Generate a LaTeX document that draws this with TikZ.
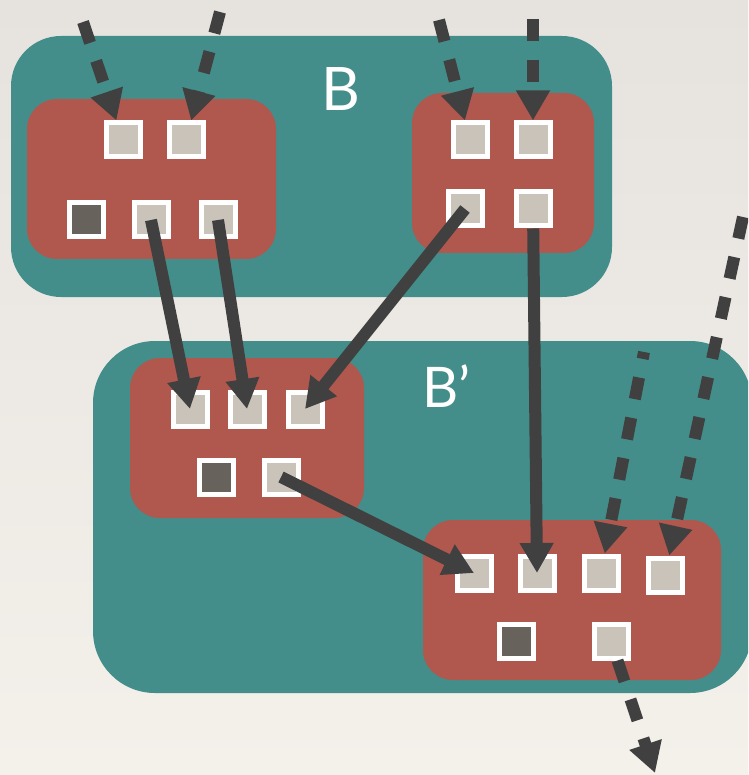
\documentclass[tikz,border=0pt]{standalone}
\usepackage{fontspec}
\setmainfont{Lato}
\usetikzlibrary{arrows.meta,calc}
\definecolor{papertop}{HTML}{E6E3DF}
\definecolor{paperbot}{HTML}{F4F1EB}
\definecolor{tealc}{HTML}{438E8A}
\definecolor{redc}{HTML}{B0574E}
\definecolor{portlight}{HTML}{C9C3BA}
\definecolor{portdark}{HTML}{67625C}
\definecolor{linkc}{HTML}{404040}
\tikzset{
  outerbox/.style={fill=tealc, inner sep=0pt, outer sep=0pt},
  innerbox/.style={fill=redc, rounded corners=30pt, inner sep=0pt, outer sep=0pt,
                   minimum height=160pt},
  port/.style={draw=white, line width=5pt, fill=portlight, minimum size=34pt, inner sep=0pt},
  portd/.style={port, fill=portdark},
  link/.style={draw=linkc, line width=12pt, -{Triangle[width=32pt,length=30pt]}},
  flow/.style={link, dash pattern=on 22pt off 19pt},
  boxlabel/.style={text=white, inner sep=0pt}
}
\begin{document}
\begin{tikzpicture}[x=1pt,y=-1pt]
\useasboundingbox (0,0) rectangle (748,775);
\clip (0,0) rectangle (748,775);
\fill[top color=papertop, bottom color=paperbot] (0,0) rectangle (748,775);

% outer blocks
\node[outerbox, rounded corners=50pt, minimum width=601pt, minimum height=261pt] (B) at (311.5,166.5) {};
\node[outerbox, rounded corners=62pt, minimum width=659pt, minimum height=352pt] (Bp) at (422.5,517) {};
\node[boxlabel, anchor=base, font=\fontsize{60}{60}\selectfont] (lB) at (340.5,111) {B};
\node[boxlabel, anchor=base west, font=\fontsize{56}{56}\selectfont] (lBp) at (422,407) {B’};

% inner blocks
\node[innerbox, minimum width=249pt] (r1) at (151.5,179) {};
\node[innerbox, minimum width=182pt] (r2) at (503,173) {};
\node[innerbox, minimum width=234pt] (r3) at (247,438) {};
\node[innerbox, minimum width=298pt] (r4) at (572,600) {};

% ports
\node[port]  (a1) at (123,140) {};
\node[port]  (a2) at (186,140) {};
\node[portd] (a3) at (86,220) {};
\node[port]  (a4) at (151,220) {};
\node[port]  (a5) at (218,220) {};

\node[port] (b1) at (470,140) {};
\node[port] (b2) at (533,140) {};
\node[port] (b3) at (465,209) {};
\node[port] (b4) at (533,209) {};

\node[port]  (c1) at (190,409) {};
\node[port]  (c2) at (247,409) {};
\node[port]  (c3) at (305,409) {};
\node[portd] (c4) at (216,477) {};
\node[port]  (c5) at (281,477) {};

\node[port]  (d1) at (474,573) {};
\node[port]  (d2) at (537,573) {};
\node[port]  (d3) at (601,573) {};
\node[port]  (d4) at (665,575) {};
\node[portd] (d5) at (516,641) {};
\node[port]  (d6) at (611,641) {};

% loose ends of the dashed flows
\coordinate (ia) at (83,22);
\coordinate (ib) at (220,12);
\coordinate (ic) at (439,20);
\coordinate (id) at (533,19);
\coordinate (ie) at (644,352);
\coordinate (if) at (743,217);
\coordinate (og) at (655,773);

% dashed flows
\draw[flow] (ia) -- (a1);
\draw[flow] (ib) -- (a2);
\draw[flow] (ic) -- (b1);
\draw[flow] (id) -- (b2);
\draw[flow, dash phase=15pt] (ie) -- (d3);
\draw[flow] (if) -- (d4);
\draw[flow] (d6) -- (og);

% solid links
\draw[link] (a4.center) -- (c1.center);
\draw[link] (a5.center) -- (c2.center);
\draw[link] (b3.center) -- (c3.center);
\draw[link] (b4) -- (d2.center);
\draw[link] (c5.center) -- (d1.center);
\end{tikzpicture}
\end{document}
